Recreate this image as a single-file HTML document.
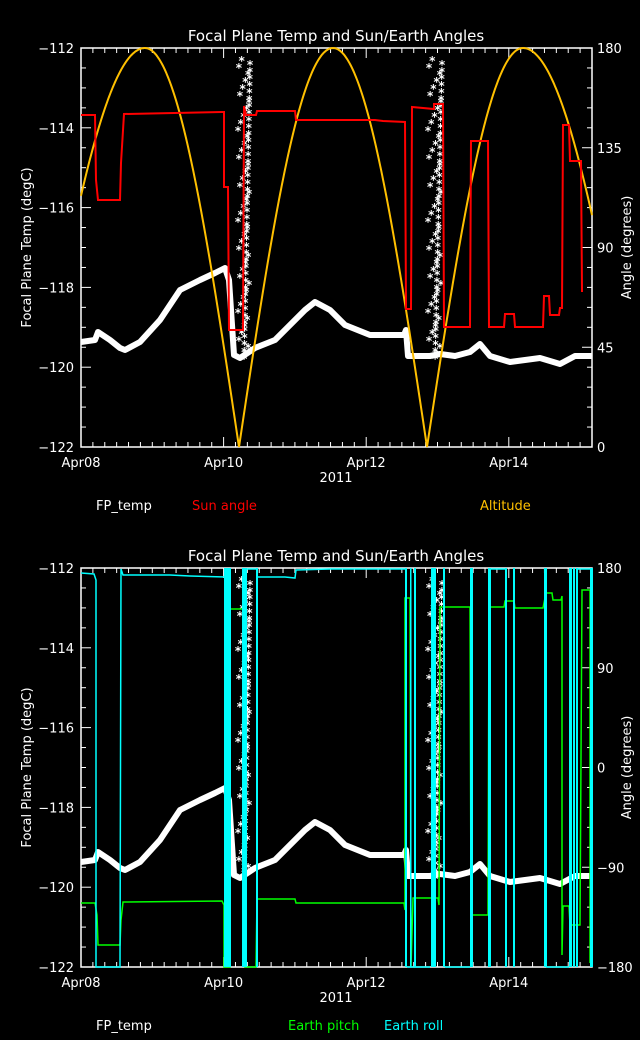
<!DOCTYPE html>
<html><head><meta charset="utf-8"><style>
html,body{margin:0;padding:0;background:#000;}
svg{display:block;font-family:"DejaVu Sans","Liberation Sans",sans-serif;}
</style></head><body>
<svg id="s" width="640" height="1040" xmlns="http://www.w3.org/2000/svg">
<rect width="640" height="1040" fill="#000"/>
<g fill="#fff" font-size="14">
<text x="336" y="41" text-anchor="middle" font-size="15">Focal Plane Temp and Sun/Earth Angles</text>
<text x="336" y="561" text-anchor="middle" font-size="15">Focal Plane Temp and Sun/Earth Angles</text>
</g>
<g id="g"></g>
</svg>
<script>
var NS="http://www.w3.org/2000/svg",G=document.getElementById('g');
function el(t,a,txt){var e=document.createElementNS(NS,t);for(var k in a)e.setAttribute(k,a[k]);if(txt!=null)e.textContent=txt;G.appendChild(e);return e;}
var L=81,R=592;
function axes(top,bot,rlab,rmin,rmax,rmajor,rminor){
 el('rect',{x:L,y:top,width:R-L,height:bot-top,fill:'none',stroke:'#fff','stroke-width':1.5});
 var h=bot-top;
 for(var i=0;i<=20;i++){var y=top+i*h/20,len=(i%4==0)?10:5;
  el('line',{x1:L,y1:y,x2:L+len,y2:y,stroke:'#fff'});}
 for(var t=0;t<=5;t++){var y=top+t*h/5;el('text',{x:74,y:y+5,'text-anchor':'end',fill:'#fff','font-size':13},'\u2212'+(112+2*t));}
 var n=(rmax-rmin)/rminor;
 for(var i=0;i<=n;i++){var v=rmax-i*rminor,y=top+i*h/n,len=((v-rmin)%rmajor==0)?10:5;
  el('line',{x1:R,y1:y,x2:R-len,y2:y,stroke:'#fff'});
  if((v-rmin)%rmajor==0)el('text',{x:597,y:y+5,fill:'#fff','font-size':13},v<0?'\u2212'+(-v):''+v);}
 var day=71.3;
 for(var i=0;i<=43;i++){var x=L+i*day/6;if(x>R)break;var len=(i%12==0)?10:5;
  el('line',{x1:x,y1:bot,x2:x,y2:bot-len,stroke:'#fff'});el('line',{x1:x,y1:top,x2:x,y2:top+len,stroke:'#fff'});}
 ['Apr08','Apr10','Apr12','Apr14'].forEach(function(s,k){el('text',{x:L+k*2*day,y:bot+20,'text-anchor':'middle',fill:'#fff','font-size':13},s);});
 el('text',{x:336,y:bot+35,'text-anchor':'middle',fill:'#fff','font-size':13},'2011');
 el('text',{x:0,y:0,transform:'translate(31,'+((top+bot)/2)+') rotate(-90)','text-anchor':'middle',fill:'#fff','font-size':13},'Focal Plane Temp (degC)');
 el('text',{x:0,y:0,transform:'translate(631,'+((top+bot)/2)+') rotate(-90)','text-anchor':'middle',fill:'#fff','font-size':13},'Angle (degrees)');
}
var tc=[[81,862],[95,860],[98,852],[110,860],[120,868],[125,870],[140,862],[160,840],[180,810],[200,800],[215,793],[225,788],[229,800],[234,875],[240,878],[255,868],[275,860],[290,845],[305,830],[315,822],[330,830],[345,845],[370,855],[404,855],[406,850],[408,876],[430,876],[440,874],[455,876],[470,872],[480,864],[490,876],[510,882],[540,878],[560,884],[575,876],[592,876]];
function temp(off){var p=tc.map(function(q){return q[0]+','+(q[1]+off)}).join(' ');
 el('polyline',{points:p,fill:'none',stroke:'#fff','stroke-width':6,'stroke-linejoin':'round'});
 var cols=[[238,250,60,360],[428,442,60,360]];
 cols.forEach(function(c){for(var y=c[2];y<c[3];y+=7){var x=c[0]+(c[1]-c[0])*((y*7)%13)/13;
  var yy=y+off+520;el('text',{x:x,y:yy+5,fill:'#fff','font-size':12,'font-weight':'bold','text-anchor':'middle'},'*');
  el('text',{x:c[1]-(c[1]-c[0])*(y-c[2])/(c[3]-c[2])*0.5,y:yy+9,fill:'#fff','font-size':12,'font-weight':'bold','text-anchor':'middle'},'*');}});
}
axes(48,447,null,0,180,45,9);
var arcs=[[32,145,239],[239,333,427],[427,523,637]];
var ap='';for(var x=81;x<=592;x++){var A=arcs[x<239?0:(x<427?1:2)],v;
 if(x<=A[1])v=180*Math.sin(Math.PI/2*(x-A[0])/(A[1]-A[0]));else v=180*Math.sin(Math.PI/2*(A[2]-x)/(A[2]-A[1]));
 ap+=(ap?' ':'')+x+','+(447-v*399/180).toFixed(1);}
temp(-520);
el('polyline',{points:ap,fill:'none',stroke:'#ffc000','stroke-width':2});
var red=[[81,115],[95,115],[96,180],[98,200],[120,200],[121,163],[124,114],[222,112],[224,112],[224,187],[228,187],[229,330],[243,330],[244,106],[246,115],[256,115],[257,111],[295,111],[296,120],[375,120],[383,121],[405,122],[406,309],[411,309],[412,107],[434,109],[434,104],[443,104],[444,327],[470,327],[471,141],[488,141],[489,327],[504,327],[505,314],[514,314],[515,327],[543,327],[544,296],[549,296],[550,315],[559,315],[560,308],[562,308],[563,125],[569,125],[570,161],[581,161],[582,292]];
el('polyline',{points:red.map(function(q){return q.join(',')}).join(' '),fill:'none',stroke:'#f00','stroke-width':2});
el('text',{x:96,y:510,fill:'#fff','font-size':13},'FP_temp');
el('text',{x:192,y:510,fill:'#f00','font-size':13},'Sun angle');
el('text',{x:480,y:510,fill:'#ffc000','font-size':13},'Altitude');
axes(568,967,null,-180,180,90,18);
temp(0);
var gr=[[81,903],[95,903],[97,915],[98,945],[120,945],[121,920],[123,902],[222,901],[224,905],[224,967],[230,967],[230,609],[245,609],[245,967],[256,967],[257,899],[295,899],[296,903],[404,903],[405,910],[405,598],[410,598],[411,967],[413,898],[438,898],[439,905],[440,607],[470,607],[471,915],[488,915],[489,607],[504,607],[505,601],[514,601],[515,608],[543,608],[546,593],[552,593],[553,600],[561,600],[562,596],[562,955],[563,906],[569,906],[570,925],[580,925],[582,590],[590,590],[590,595],[590,963]];
el('polyline',{points:gr.map(function(q){return q.join(',')}).join(' '),fill:'none',stroke:'#0f0','stroke-width':1.5});
var cy=[[81,573],[94,574],[96,580],[96,967],[120,967],[121,569],[123,575],[170,575],[190,576],[225,577]];
el('polyline',{points:cy.map(function(q){return q.join(',')}).join(' '),fill:'none',stroke:'#0ff','stroke-width':1.5});
el('polyline',{points:'257,577 285,577 295,578 296,570 330,569 405,569',fill:'none',stroke:'#0ff','stroke-width':1.5});
[[224,7],[242,5],[256,2],[405,2],[410,1.5],[414,2],[431,3],[434,2],[443,2],[470,3],[488,3],[505,2],[513,2],[544,3],[569,3],[573,2],[576,2],[590,3]].forEach(function(b){
 el('rect',{x:b[0],y:568,width:b[1],height:399,fill:'#0ff'});});
el('line',{x1:246,y1:569,x2:256,y2:569,stroke:'#0ff','stroke-width':1.5});
el('line',{x1:407,y1:967,x2:430,y2:967,stroke:'#0ff','stroke-width':1.5});
el('line',{x1:445,y1:967,x2:470,y2:967,stroke:'#0ff','stroke-width':1.5});
el('line',{x1:491,y1:569,x2:505,y2:569,stroke:'#0ff','stroke-width':1.5});
el('line',{x1:546,y1:967,x2:569,y2:967,stroke:'#0ff','stroke-width':1.5});
el('line',{x1:576,y1:569,x2:592,y2:569,stroke:'#0ff','stroke-width':1.5});
el('text',{x:96,y:1030,fill:'#fff','font-size':13},'FP_temp');
el('text',{x:288,y:1030,fill:'#0f0','font-size':13},'Earth pitch');
el('text',{x:384,y:1030,fill:'#0ff','font-size':13},'Earth roll');
</script>
</body></html>
